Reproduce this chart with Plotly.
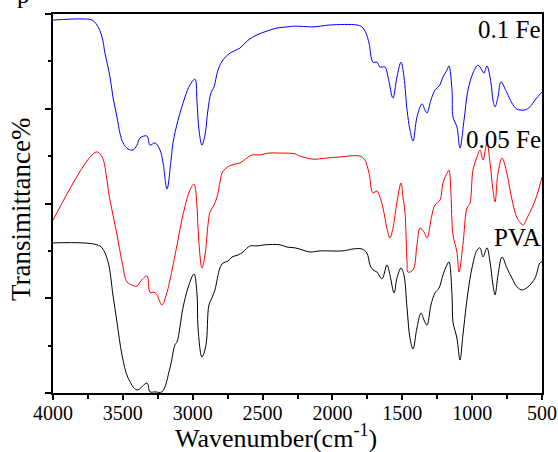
import plotly.graph_objects as go

# PVA (black)
pva_wn = [4000, 3785, 3685, 3649, 3606, 3571, 3542, 3506, 3463, 3399, 3327, 3306, 3270, 3220,
          3163, 3127, 3112, 3070, 3034, 2991, 2969, 2962, 2934, 2905, 2884, 2862, 2841, 2805,
          2783, 2747, 2719, 2676, 2640, 2590, 2540, 2483, 2375, 2325, 2268, 2211, 2161, 2089,
          1925, 1853, 1789, 1753, 1731, 1710, 1681, 1645, 1610, 1588, 1559, 1538, 1509, 1488,
          1466, 1445, 1423, 1395, 1366, 1345, 1323, 1295, 1266, 1237, 1209, 1180, 1166, 1144,
          1137, 1109, 1087, 1066, 1030, 1001, 965, 944, 922, 894, 872, 851, 836, 815, 786, 751,
          715, 679, 643, 600, 550, 515, 500]
pva_t = [39.6, 39.6, 39.1, 38.3, 34.6, 25.9, 18.7, 10.0, 4.0, 0.8, 2.6, 0.3, 0.3, 0.3,
         6.6, 12.7, 13.5, 22.4, 27.7, 31.4, 25.9, 17.2, 9.5, 12.7, 23.2, 25.1, 27.2, 33.0,
         34.3, 34.8, 35.9, 36.4, 37.2, 38.8, 38.8, 39.1, 39.1, 38.5, 38.3, 37.7, 37.2, 37.5,
         37.5, 38.0, 38.0, 36.9, 33.8, 32.5, 31.9, 30.1, 33.8, 31.1, 26.4, 30.3, 33.0, 31.1,
         22.4, 14.5, 11.6, 17.2, 21.1, 19.3, 17.9, 23.2, 26.4, 27.7, 31.1, 33.8, 34.6, 25.9,
         18.7, 14.5, 8.7, 15.3, 26.6, 33.0, 37.7, 38.3, 35.9, 38.3, 34.6, 28.5, 25.9, 31.1, 35.9, 33.0,
         30.3, 28.0, 27.2, 28.0, 30.3, 34.3, 34.6]

# 0.05 Fe (red)
fe05_wn = [4000, 3692, 3649, 3614, 3599, 3578, 3542, 3506, 3470, 3435, 3399, 3370, 3327, 3306,
           3277, 3256, 3220, 3184, 3163, 3112, 3070, 3019, 2991, 2969, 2962, 2934, 2912, 2891,
           2876, 2855, 2826, 2790, 2769, 2719, 2662, 2612, 2576, 2518, 2461, 2375, 2268, 2232,
           2139, 2039, 1946, 1803, 1768, 1738, 1710, 1681, 1660, 1638, 1610, 1588, 1567, 1538,
           1509, 1495, 1481, 1466, 1459, 1423, 1395, 1373, 1345, 1323, 1288, 1266, 1230, 1209,
           1180, 1166, 1152, 1137, 1109, 1094, 1066, 1037, 1016, 994, 965, 944, 922, 894, 872,
           851, 836, 815, 786, 751, 729, 708, 679, 658, 636, 607, 572, 536, 500]
fe05_t = [45.6, 63.6, 62.3, 56.2, 52.2, 48.3, 41.7, 34.6, 29.3, 28.5, 28.2, 29.6, 30.9, 26.6,
          26.6, 25.9, 23.2, 26.6, 29.8, 39.1, 47.0, 53.6, 55.1, 49.1, 43.5, 33.0, 36.4, 44.3,
          47.8, 49.1, 51.7, 58.0, 59.1, 60.2, 60.7, 62.0, 62.8, 62.8, 63.3, 63.3, 63.1, 62.5,
          61.7, 62.0, 62.3, 62.5, 61.5, 58.0, 52.8, 53.3, 51.7, 48.8, 43.5, 40.9, 43.5, 50.4,
          55.4, 51.7, 47.8, 34.6, 31.9, 32.5, 39.1, 43.5, 42.5, 40.9, 47.0, 49.6, 50.9, 55.4,
          58.0, 58.8, 52.8, 41.7, 37.2, 31.9, 39.1, 48.8, 50.1, 58.8, 62.3, 64.1, 61.5, 66.0, 60.7,
          53.6, 50.4, 58.0, 62.0, 58.0, 53.6, 49.9, 46.2, 45.1, 44.3, 46.2, 48.8, 52.2, 57.0]

# 0.1 Fe (blue)
fe10_wn = [4000, 3785, 3721, 3685, 3649, 3628, 3592, 3571, 3542, 3521, 3499, 3463, 3427, 3399,
           3377, 3327, 3306, 3270, 3234, 3213, 3184, 3155, 3141, 3105, 3055, 3019, 2984, 2969,
           2955, 2934, 2912, 2891, 2869, 2848, 2819, 2783, 2733, 2662, 2604, 2540, 2468, 2397,
           2325, 2268, 2139, 2018, 1824, 1789, 1760, 1738, 1710, 1681, 1660, 1624, 1602, 1567,
           1538, 1509, 1488, 1466, 1445, 1423, 1395, 1359, 1338, 1323, 1295, 1266, 1230, 1209,
           1180, 1166, 1144, 1137, 1109, 1087, 1058, 1030, 994, 958, 930, 915, 894, 865, 851,
           836, 815, 794, 751, 715, 679, 622, 586, 550, 500]
fe10_t = [98.4, 98.7, 98.4, 97.1, 93.9, 89.7, 83.4, 78.1, 72.8, 68.6, 66.0, 64.4, 64.1, 65.4,
          67.3, 67.8, 65.4, 66.0, 64.1, 60.9, 53.8, 61.5, 66.0, 72.0, 78.1, 81.3, 82.8, 76.5,
          69.4, 65.4, 68.1, 74.7, 79.2, 80.7, 85.2, 87.9, 89.7, 91.0, 93.1, 94.5, 95.5, 96.3,
          96.6, 96.8, 96.6, 97.1, 97.1, 96.6, 95.0, 92.3, 87.3, 87.3, 86.0, 86.0, 83.4, 77.8,
          83.4, 87.3, 83.4, 74.7, 69.4, 66.5, 72.8, 76.3, 74.7, 73.9, 77.3, 79.9, 81.3, 83.4,
          85.2, 86.3, 79.9, 72.8, 70.2, 64.6, 72.0, 79.9, 84.4, 86.5, 85.2, 84.4, 86.3, 81.8, 77.3,
          75.5, 78.1, 82.1, 79.2, 76.5, 74.9, 74.7, 75.5, 77.3, 79.4]

x_ticks = [4000, 3500, 3000, 2500, 2000, 1500, 1000, 500]
y_ticks = [0, 25, 50, 75, 100]
labels = ["0.1 Fe", "0.05 Fe", "PVA"]

serif = "Liberation Serif, Times New Roman, serif"

fig = go.Figure()
fig.add_trace(go.Scatter(x=pva_wn, y=pva_t, mode="lines", line=dict(color="#000000", width=1),
                         line_shape="spline", showlegend=False))
fig.add_trace(go.Scatter(x=fe05_wn, y=fe05_t, mode="lines", line=dict(color="#FF0000", width=1),
                         line_shape="spline", showlegend=False))
fig.add_trace(go.Scatter(x=fe10_wn, y=fe10_t, mode="lines", line=dict(color="#0000FF", width=1),
                         line_shape="spline", showlegend=False))

fig.update_layout(
    width=558, height=452,
    margin=dict(l=53, r=16, t=14, b=59, autoexpand=False),
    paper_bgcolor="white", plot_bgcolor="white",
    font=dict(family=serif, color="black"),
    xaxis=dict(range=[4000, 500], tickvals=x_ticks, ticktext=[str(v) for v in x_ticks],
               automargin=False,
               showline=True, linecolor="black", linewidth=2, mirror=True,
               ticks="outside", ticklen=5, tickwidth=2, tickcolor="black",
               minor=dict(dtick=250, ticks="outside", ticklen=4, tickwidth=2, tickcolor="black"),
               ticklabelstandoff=-4,
               showgrid=False, zeroline=False, tickfont=dict(size=20, family=serif)),
    yaxis=dict(range=[0, 100], tickvals=y_ticks, showticklabels=False, automargin=False,
               showline=True, linecolor="black", linewidth=2, mirror=True,
               ticks="outside", ticklen=6, tickwidth=2, tickcolor="black",
               minor=dict(dtick=12.5, ticks="outside", ticklen=3, tickwidth=2, tickcolor="black"),
               showgrid=False, zeroline=False),
)

ann_y = [0.960, 0.670, 0.409]
for lab, yy in zip(labels, ann_y):
    fig.add_annotation(text=lab, xref="paper", yref="paper", x=1.002, y=yy,
                       xanchor="right", yanchor="middle", showarrow=False,
                       font=dict(size=25, family=serif, color="black"))

fig.add_annotation(text="Wavenumber(cm<sup>-1</sup>)", xref="paper", yref="paper",
                   x=0.456, y=-0.115, xanchor="center", yanchor="middle", showarrow=False,
                   font=dict(size=26, family=serif, color="black"))
fig.add_annotation(text="Transimittance%", xref="paper", yref="paper",
                   x=-0.066, y=0.485, xanchor="center", yanchor="middle", textangle=-90,
                   showarrow=False, font=dict(size=27, family=serif, color="black"))
# clipped caption fragment at the very top of the original picture
fig.add_annotation(text="p", xref="paper", yref="paper",
                   x=-0.061, y=1.0106, xanchor="center", yanchor="bottom", showarrow=False,
                   font=dict(size=25, family=serif, color="black"))

fig.write_html("out.html")
